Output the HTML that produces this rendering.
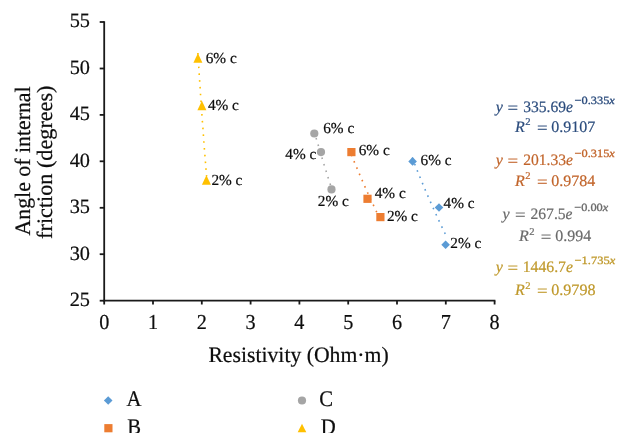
<!DOCTYPE html>
<html><head><meta charset="utf-8"><title>chart</title>
<style>
html,body{margin:0;padding:0;background:#fff;}
svg{display:block;font-family:"Liberation Serif",serif;-webkit-font-smoothing:antialiased;text-rendering:geometricPrecision;}
svg{will-change:transform;}
.t{fill:#0d0d0d;stroke:#0d0d0d;stroke-width:0.22px;}
</style></head><body>
<svg width="629" height="447" viewBox="0 0 629 447">

<g stroke="#1a1a1a" stroke-width="1.8" fill="none">
<line x1="104.2" y1="21.2" x2="104.2" y2="301.5"/>
<line x1="103.4" y1="300.7" x2="495.4" y2="300.7"/>
<line x1="99.7" y1="300.7" x2="104.2" y2="300.7"/>
<line x1="99.7" y1="254.2" x2="104.2" y2="254.2"/>
<line x1="99.7" y1="207.8" x2="104.2" y2="207.8"/>
<line x1="99.7" y1="161.3" x2="104.2" y2="161.3"/>
<line x1="99.7" y1="114.9" x2="104.2" y2="114.9"/>
<line x1="99.7" y1="68.5" x2="104.2" y2="68.5"/>
<line x1="99.7" y1="22.0" x2="104.2" y2="22.0"/>
<line x1="104.2" y1="300.7" x2="104.2" y2="304.5"/>
<line x1="153.0" y1="300.7" x2="153.0" y2="304.5"/>
<line x1="201.8" y1="300.7" x2="201.8" y2="304.5"/>
<line x1="250.6" y1="300.7" x2="250.6" y2="304.5"/>
<line x1="299.4" y1="300.7" x2="299.4" y2="304.5"/>
<line x1="348.2" y1="300.7" x2="348.2" y2="304.5"/>
<line x1="397.0" y1="300.7" x2="397.0" y2="304.5"/>
<line x1="445.8" y1="300.7" x2="445.8" y2="304.5"/>
<line x1="494.6" y1="300.7" x2="494.6" y2="304.5"/>
</g>
<g class="t" font-size="20.3" text-anchor="end">
<text x="90" y="306.1">25</text>
<text x="90" y="259.6">30</text>
<text x="90" y="213.2">35</text>
<text x="90" y="166.8">40</text>
<text x="90" y="120.3">45</text>
<text x="90" y="73.9">50</text>
<text x="90" y="27.4">55</text>
</g>
<g class="t" font-size="21.3" text-anchor="middle">
<text x="104.2" y="328.6" textLength="10.1" lengthAdjust="spacingAndGlyphs">0</text>
<text x="153.0" y="328.6" textLength="10.1" lengthAdjust="spacingAndGlyphs">1</text>
<text x="201.8" y="328.6" textLength="10.1" lengthAdjust="spacingAndGlyphs">2</text>
<text x="250.6" y="328.6" textLength="10.1" lengthAdjust="spacingAndGlyphs">3</text>
<text x="299.4" y="328.6" textLength="10.1" lengthAdjust="spacingAndGlyphs">4</text>
<text x="348.2" y="328.6" textLength="10.1" lengthAdjust="spacingAndGlyphs">5</text>
<text x="397.0" y="328.6" textLength="10.1" lengthAdjust="spacingAndGlyphs">6</text>
<text x="445.8" y="328.6" textLength="10.1" lengthAdjust="spacingAndGlyphs">7</text>
<text x="494.6" y="328.6" textLength="10.1" lengthAdjust="spacingAndGlyphs">8</text>
</g>
<text class="t" font-size="22" transform="translate(30.2,235.5) rotate(-90)" textLength="149.1" lengthAdjust="spacingAndGlyphs">Angle of internal</text>
<text class="t" font-size="22" transform="translate(52,238.9) rotate(-90)" textLength="153.4" lengthAdjust="spacingAndGlyphs">friction (degrees)</text>
<text class="t" font-size="22" x="208.4" y="361.7" textLength="180.3" lengthAdjust="spacingAndGlyphs">Resistivity (Ohm·m)</text>
<polyline points="197.9,53.0 198.3,58.9 198.6,64.8 199.0,70.5 199.3,76.2 199.7,81.8 200.1,87.3 200.4,92.8 200.8,98.2 201.2,103.5 201.5,108.8 201.9,114.0 202.2,119.2 202.6,124.2 203.0,129.3 203.3,134.2 203.7,139.1 204.0,144.0 204.4,148.7 204.8,153.5 205.1,158.1 205.5,162.7 205.9,167.3 206.2,171.7 206.6,176.2" fill="none" stroke="#FFC000" stroke-width="1.6" stroke-dasharray="1.6 5.2" stroke-linecap="butt"/>
<polyline points="314.3,131.4 315.0,133.9 315.7,136.4 316.4,138.9 317.2,141.4 317.9,143.9 318.6,146.4 319.3,148.8 320.0,151.2 320.7,153.7 321.5,156.1 322.2,158.4 322.9,160.8 323.6,163.2 324.3,165.5 325.1,167.8 325.8,170.1 326.5,172.4 327.2,174.7 327.9,177.0 328.6,179.2 329.4,181.5 330.1,183.7 330.8,185.9 331.5,188.1" fill="none" stroke="#A5A5A5" stroke-width="1.6" stroke-dasharray="1.6 5.2" stroke-linecap="butt"/>
<polyline points="351.4,154.8 352.6,157.8 353.8,160.7 355.0,163.6 356.3,166.5 357.5,169.4 358.7,172.2 359.9,175.1 361.1,177.9 362.3,180.6 363.5,183.4 364.7,186.1 365.9,188.9 367.1,191.6 368.3,194.2 369.5,196.9 370.7,199.5 372.0,202.1 373.2,204.7 374.4,207.3 375.6,209.8 376.8,212.4 378.0,214.9 379.2,217.4 380.4,219.9" fill="none" stroke="#ED7D31" stroke-width="1.6" stroke-dasharray="1.6 5.2" stroke-linecap="butt"/>
<polyline points="412.2,157.6 413.6,161.2 415.0,164.7 416.4,168.2 417.7,171.7 419.1,175.1 420.5,178.6 421.9,181.9 423.3,185.3 424.7,188.6 426.1,191.9 427.5,195.1 428.9,198.3 430.3,201.5 431.7,204.7 433.1,207.8 434.5,210.9 435.9,213.9 437.2,217.0 438.6,220.0 440.0,223.0 441.4,225.9 442.8,228.8 444.2,231.7 445.6,234.6" fill="none" stroke="#5B9BD5" stroke-width="1.6" stroke-dasharray="1.6 5.2" stroke-linecap="butt"/>
<polygon points="197.9,53.2 202.4,62.8 193.4,62.8" fill="#FFC000"/>
<polygon points="201.9,100.7 206.4,110.3 197.4,110.3" fill="#FFC000"/>
<polygon points="206.4,175.2 210.9,184.8 201.9,184.8" fill="#FFC000"/>
<circle cx="314.3" cy="133.5" r="4.1" fill="#A5A5A5"/>
<circle cx="321.0" cy="152.1" r="4.1" fill="#A5A5A5"/>
<circle cx="331.5" cy="189.4" r="4.1" fill="#A5A5A5"/>
<rect x="347.3" y="148.0" width="8.2" height="8.2" fill="#ED7D31"/>
<rect x="363.4" y="194.7" width="8.2" height="8.2" fill="#ED7D31"/>
<rect x="376.3" y="213.0" width="8.2" height="8.2" fill="#ED7D31"/>
<polygon points="412.6,157.1 416.9,161.4 412.6,165.7 408.3,161.4" fill="#5B9BD5"/>
<polygon points="439.0,203.2 443.3,207.5 439.0,211.8 434.7,207.5" fill="#5B9BD5"/>
<polygon points="445.6,240.4 449.9,244.7 445.6,249.0 441.3,244.7" fill="#5B9BD5"/>
<text class="t" font-size="15.3" x="205.7" y="62.6" textLength="31" lengthAdjust="spacingAndGlyphs">6% c</text>
<text class="t" font-size="15.3" x="207.9" y="110.0" textLength="31" lengthAdjust="spacingAndGlyphs">4% c</text>
<text class="t" font-size="15.3" x="211.4" y="185.2" textLength="31" lengthAdjust="spacingAndGlyphs">2% c</text>
<text class="t" font-size="15.3" x="323.2" y="132.8" textLength="31" lengthAdjust="spacingAndGlyphs">6% c</text>
<text class="t" font-size="15.3" x="285.3" y="159.0" textLength="31" lengthAdjust="spacingAndGlyphs">4% c</text>
<text class="t" font-size="15.3" x="317.8" y="206.0" textLength="31" lengthAdjust="spacingAndGlyphs">2% c</text>
<text class="t" font-size="15.3" x="358.7" y="155.0" textLength="31" lengthAdjust="spacingAndGlyphs">6% c</text>
<text class="t" font-size="15.3" x="374.7" y="197.9" textLength="31" lengthAdjust="spacingAndGlyphs">4% c</text>
<text class="t" font-size="15.3" x="386.9" y="220.8" textLength="31" lengthAdjust="spacingAndGlyphs">2% c</text>
<text class="t" font-size="15.3" x="420.6" y="165.1" textLength="31" lengthAdjust="spacingAndGlyphs">6% c</text>
<text class="t" font-size="15.3" x="443.6" y="207.8" textLength="31" lengthAdjust="spacingAndGlyphs">4% c</text>
<text class="t" font-size="15.3" x="450.3" y="248.3" textLength="31" lengthAdjust="spacingAndGlyphs">2% c</text>
<g fill="#2A4B7C" stroke="#2A4B7C" stroke-width="0.2" font-size="16"><text x="495.7" y="112.4" font-style="italic">y</text><text x="507.5" y="113.3" textLength="10.6" lengthAdjust="spacingAndGlyphs">=</text><text x="523.2" y="112.4" textLength="49.8" lengthAdjust="spacingAndGlyphs">335.69<tspan font-style="italic">e</tspan></text><text x="574.6" y="104.3" font-size="11.2" stroke-width="0.3" textLength="40.2" lengthAdjust="spacingAndGlyphs">−0.335<tspan font-style="italic">x</tspan></text></g>
<g fill="#2A4B7C" stroke="#2A4B7C" stroke-width="0.2" font-size="16"><text x="515.1" y="132" font-style="italic">R</text><text x="525.3000000000001" y="125.4" font-size="10.6">2</text><text x="536.9" y="132.9" textLength="10.6" lengthAdjust="spacingAndGlyphs">=</text><text x="551.2" y="132" textLength="44.0" lengthAdjust="spacingAndGlyphs">0.9107</text></g>
<g fill="#C1642A" stroke="#C1642A" stroke-width="0.2" font-size="16"><text x="495.7" y="165.3" font-style="italic">y</text><text x="507.5" y="166.2" textLength="10.6" lengthAdjust="spacingAndGlyphs">=</text><text x="523.2" y="165.3" textLength="49.8" lengthAdjust="spacingAndGlyphs">201.33<tspan font-style="italic">e</tspan></text><text x="574.6" y="157.2" font-size="11.2" stroke-width="0.3" textLength="40.2" lengthAdjust="spacingAndGlyphs">−0.315<tspan font-style="italic">x</tspan></text></g>
<g fill="#C1642A" stroke="#C1642A" stroke-width="0.2" font-size="16"><text x="515.1" y="185.8" font-style="italic">R</text><text x="525.3000000000001" y="179.2" font-size="10.6">2</text><text x="536.9" y="186.7" textLength="10.6" lengthAdjust="spacingAndGlyphs">=</text><text x="551.2" y="185.8" textLength="44.0" lengthAdjust="spacingAndGlyphs">0.9784</text></g>
<g fill="#6A6A6A" stroke="#6A6A6A" stroke-width="0.2" font-size="16"><text x="502.5" y="218.8" font-style="italic">y</text><text x="515.1" y="219.7" textLength="10.6" lengthAdjust="spacingAndGlyphs">=</text><text x="530.5" y="218.8" textLength="42.0" lengthAdjust="spacingAndGlyphs">267.5<tspan font-style="italic">e</tspan></text><text x="574.2" y="210.7" font-size="11.2" stroke-width="0.3" textLength="34.0" lengthAdjust="spacingAndGlyphs">−0.00<tspan font-style="italic">x</tspan></text></g>
<g fill="#6A6A6A" stroke="#6A6A6A" stroke-width="0.2" font-size="16"><text x="519.1" y="241.4" font-style="italic">R</text><text x="529.3000000000001" y="234.8" font-size="10.6">2</text><text x="540.7" y="242.3" textLength="10.6" lengthAdjust="spacingAndGlyphs">=</text><text x="555.3" y="241.4" textLength="35.9" lengthAdjust="spacingAndGlyphs">0.994</text></g>
<g fill="#BF982A" stroke="#BF982A" stroke-width="0.2" font-size="16"><text x="495.7" y="272.3" font-style="italic">y</text><text x="507.5" y="273.2" textLength="10.6" lengthAdjust="spacingAndGlyphs">=</text><text x="522.7" y="272.3" textLength="50.3" lengthAdjust="spacingAndGlyphs">1446.7<tspan font-style="italic">e</tspan></text><text x="574.6" y="264.2" font-size="11.2" stroke-width="0.3" textLength="40.6" lengthAdjust="spacingAndGlyphs">−1.735<tspan font-style="italic">x</tspan></text></g>
<g fill="#BF982A" stroke="#BF982A" stroke-width="0.2" font-size="16"><text x="515.1" y="295.2" font-style="italic">R</text><text x="525.3000000000001" y="288.6" font-size="10.6">2</text><text x="536.9" y="296.1" textLength="10.6" lengthAdjust="spacingAndGlyphs">=</text><text x="551.2" y="295.2" textLength="44.4" lengthAdjust="spacingAndGlyphs">0.9798</text></g>
<clipPath id="lc"><rect x="0" y="0" width="629" height="432.9"/></clipPath>
<g clip-path="url(#lc)">
<polygon points="108.2,396.2 112.5,400.5 108.2,404.8 103.9,400.5" fill="#5B9BD5"/>
<rect x="104.3" y="424.1" width="8.2" height="8.2" fill="#ED7D31"/>
<circle cx="302.0" cy="400.5" r="4.1" fill="#A5A5A5"/>
<polygon points="302.0,423.8 306.3,432.2 297.7,432.2" fill="#FFC000"/>
<g class="t" font-size="22.3">
<text x="126.4" y="405.9" textLength="15" lengthAdjust="spacingAndGlyphs">A</text>
<text x="127.2" y="434" textLength="13.8" lengthAdjust="spacingAndGlyphs">B</text>
<text x="319.3" y="406.1" textLength="13.8" lengthAdjust="spacingAndGlyphs">C</text>
<text x="320.7" y="434" textLength="15" lengthAdjust="spacingAndGlyphs">D</text>
</g></g>
</svg></body></html>
